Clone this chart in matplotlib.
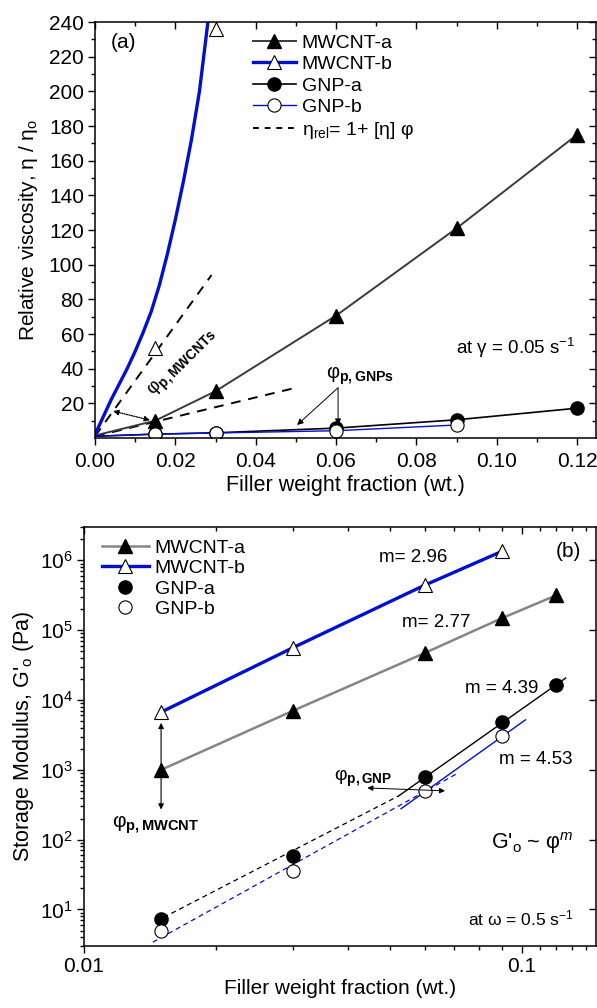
import numpy as np
import matplotlib
matplotlib.use("Agg")
import matplotlib.pyplot as plt
from matplotlib.lines import Line2D
from matplotlib.ticker import FixedLocator, MultipleLocator, NullFormatter, LogFormatterSciNotation

plt.rcParams["font.family"] = ["Liberation Sans", "DejaVu Sans"]
plt.rcParams["mathtext.fontset"] = "custom"
plt.rcParams["mathtext.rm"] = "Liberation Sans"
plt.rcParams["mathtext.it"] = "Liberation Sans:italic"
plt.rcParams["mathtext.bf"] = "Liberation Sans:bold"

# ---- panel (a): relative viscosity vs filler weight fraction ----
wt = [0.015, 0.03, 0.06, 0.09, 0.12]
rel_mwcnt_a = [10, 27, 70.6, 121, 175]
rel_mwcnt_b = [52, 236]
rel_gnp_a = [2.2, 3.0, 5.7, 10.5, 17.2]
rel_gnp_b = [2.3, 2.9, 4.2, 7.5]

# curves
mwcnt_a_curve_x = [0.001, 0.015, 0.03, 0.06, 0.09, 0.12]
mwcnt_a_curve_y = [2, 10, 27, 70.6, 121, 175]
mwcnt_b_curve_x = [0.0, 0.002, 0.004, 0.006, 0.008, 0.010, 0.012, 0.014, 0.016,
                   0.018, 0.020, 0.022, 0.024, 0.026, 0.028, 0.0285]
mwcnt_b_curve_y = [2, 12, 22, 31, 40, 50, 61, 73, 88, 106, 126, 148, 172, 200, 238, 250]
gnp_a_curve_x = [0.0, 0.015, 0.03, 0.06, 0.09, 0.12]
gnp_a_curve_y = [1, 2.2, 3.0, 5.7, 10.5, 17.2]
gnp_b_curve_x = [0.0, 0.015, 0.03, 0.06, 0.09]
gnp_b_curve_y = [1, 2.3, 2.9, 4.2, 7.5]
einstein_1_x = [0.0, 0.029]
einstein_1_y = [1, 94]
einstein_2_x = [0.0, 0.05]
einstein_2_y = [1, 29]

# ---- panel (b): storage modulus vs filler weight fraction ----
g_mwcnt_a = [1000, 7000, 47000, 148000, 316000]
g_mwcnt_b = [6700, 56000, 440000, 1.34e6]
g_gnp_a = [7.2, 59, 800, 4900, 16400]
g_gnp_b = [5.0, 35, 500, 3100]
fit_gnp_a_x = [0.0524, 0.126]
fit_gnp_a_y = [425, 20600]
fit_gnp_b_x = [0.053, 0.102]
fit_gnp_b_y = [277, 5200]
dash_gnp_a_x = [0.0152, 0.0524]
dash_gnp_a_y = [7.7, 425]
dash_gnp_b_x = [0.01436, 0.0711]
dash_gnp_b_y = [3.4, 880]

BLUE = "#0010d0"
DGRAY = "#3a3a3a"
GRAY = "#858585"

W, H = 597, 1008
fig = plt.figure(figsize=(W / 100, H / 100), dpi=100)

def frac(l, t, r, b):
    return [l / W, 1 - b / H, (r - l) / W, (b - t) / H]

ax1 = fig.add_axes(frac(95, 22, 596, 438))
ax2 = fig.add_axes(frac(84, 527, 596, 946))

ms = 9.5
# panel a
ax1.plot(einstein_1_x, einstein_1_y, ls=(0, (5, 4)), color="black", lw=1.4)
ax1.plot(einstein_2_x, einstein_2_y, ls=(0, (5, 4)), color="black", lw=1.4)
ax1.plot(mwcnt_a_curve_x, mwcnt_a_curve_y, color=DGRAY, lw=1.4)
ax1.plot(mwcnt_b_curve_x, mwcnt_b_curve_y, color=BLUE, lw=2.4)
ax1.plot(gnp_a_curve_x, gnp_a_curve_y, color="black", lw=1.2)
ax1.plot(gnp_b_curve_x, gnp_b_curve_y, color=BLUE, lw=1.0)
ax1.plot(wt, rel_mwcnt_a, ls="none", marker="^", ms=ms, mfc="black", mec="black")
ax1.plot(wt[:2], rel_mwcnt_b, ls="none", marker="^", ms=ms, mfc="white", mec="black", mew=0.8, clip_on=False)
ax1.plot(wt, rel_gnp_a, ls="none", marker="o", ms=ms, mfc="black", mec="black")
ax1.plot(wt[:4], rel_gnp_b, ls="none", marker="o", ms=ms, mfc="white", mec="black", mew=0.8)

ax1.set_xlim(0, 0.1247)
ax1.set_ylim(0, 240)
ax1.xaxis.set_major_locator(FixedLocator(np.arange(0, 0.121, 0.02)))
ax1.xaxis.set_minor_locator(FixedLocator(np.arange(0.01, 0.121, 0.02)))
ax1.yaxis.set_major_locator(FixedLocator(np.arange(20, 241, 20)))
ax1.yaxis.set_minor_locator(FixedLocator(np.arange(10, 240, 20)))
ax1.xaxis.set_major_formatter(plt.FuncFormatter(lambda v, p: f"{v:.2f}"))
ax1.set_xlabel("Filler weight fraction (wt.)", fontsize=15.5, labelpad=3)
ax1.set_ylabel("Relative viscosity, η / η$_{\\mathrm{o}}$", fontsize=15, labelpad=6)

handles_a = [
    Line2D([], [], color=DGRAY, lw=1.4, marker="^", ms=ms, mfc="black", mec="black"),
    Line2D([], [], color=BLUE, lw=2.4, marker="^", ms=ms, mfc="white", mec="black", mew=0.8),
    Line2D([], [], color="black", lw=1.2, marker="o", ms=ms, mfc="black", mec="black"),
    Line2D([], [], color=BLUE, lw=1.0, marker="o", ms=ms, mfc="white", mec="black", mew=0.8),
    Line2D([], [], color="black", lw=1.4, ls=(0, (3, 3))),
]
labels_a = ["MWCNT-a", "MWCNT-b", "GNP-a", "GNP-b", "η$_{\\mathrm{rel}}$= 1+ [η] φ"]
ax1.legend(handles_a, labels_a, loc="upper left", bbox_to_anchor=(0.30, 0.99), frameon=False,
           fontsize=14, handlelength=2.2, handletextpad=0.3, labelspacing=0.2, borderaxespad=0)

ax1.text(0.0038, 228, "(a)", fontsize=15, va="center")
ax1.text(0.1196, 52, "at γ = 0.05 s$^{-1}$", fontsize=13.5, ha="right", va="center")
ax1.text(0.0218, 43, "φ$_{\\mathbf{p,MWCNTs}}$", fontsize=14, rotation=45, ha="center", va="center")
ax1.text(0.066, 36, "φ$_{\\mathbf{p,GNPs}}$", fontsize=14.5, ha="center", va="center")
ax1.annotate("", xy=(0.0137, 10.3), xytext=(0.0045, 15.5),
             arrowprops=dict(arrowstyle="<|-|>", color="black", lw=0.9, ls=(0, (1, 1)),
                             mutation_scale=8, shrinkA=0, shrinkB=0))
ax1.annotate("", xy=(0.0503, 7.5), xytext=(0.0605, 29),
             arrowprops=dict(arrowstyle="-|>", color="black", lw=0.7, mutation_scale=9, shrinkA=0, shrinkB=0))
ax1.annotate("", xy=(0.0605, 7.5), xytext=(0.0605, 29),
             arrowprops=dict(arrowstyle="-|>", color="black", lw=0.7, mutation_scale=9, shrinkA=0, shrinkB=0))

# panel b
ax2.set_xscale("log")
ax2.set_yscale("log")
ax2.plot(dash_gnp_a_x, dash_gnp_a_y, color="black", lw=0.9, ls=(0, (4, 3)))
ax2.plot(dash_gnp_b_x, dash_gnp_b_y, color=BLUE, lw=0.9, ls=(0, (4, 3)))
ax2.plot(fit_gnp_a_x, fit_gnp_a_y, color="black", lw=1.0)
ax2.plot(fit_gnp_b_x, fit_gnp_b_y, color=BLUE, lw=1.0)
ax2.plot(wt, g_mwcnt_a, color=GRAY, lw=1.8, marker="^", ms=ms, mfc="black", mec="black")
ax2.plot(wt[:4], g_mwcnt_b, color=BLUE, lw=2.4, marker="^", ms=ms, mfc="white", mec="black", mew=0.8)
ax2.plot(wt, g_gnp_a, ls="none", marker="o", ms=ms, mfc="black", mec="black")
ax2.plot(wt[:4], g_gnp_b, ls="none", marker="o", ms=ms, mfc="white", mec="black", mew=0.8)

ax2.set_xlim(0.01, 0.1478)
ax2.set_ylim(3, 3e6)
decades = [10.0 ** k for k in range(1, 7)]
ax2.xaxis.set_major_locator(FixedLocator([0.01, 0.1]))
ax2.xaxis.set_major_formatter(plt.FuncFormatter(lambda v, p: "0.01" if v < 0.05 else "0.1"))
ax2.xaxis.set_minor_locator(FixedLocator([k * 0.01 for k in range(2, 10)] + [0.11, 0.12, 0.13, 0.14]))
ax2.xaxis.set_minor_formatter(NullFormatter())
ax2.yaxis.set_major_locator(FixedLocator(decades))
ax2.yaxis.set_major_formatter(LogFormatterSciNotation())
ax2.yaxis.set_minor_locator(FixedLocator([m * d for d in [1.0] + decades for m in range(2, 10)
                                          if 3 <= m * d <= 3e6]))
ax2.yaxis.set_minor_formatter(NullFormatter())
ax2.set_xlabel("Filler weight fraction (wt.)", fontsize=15, labelpad=2)
ax2.set_ylabel("Storage Modulus, G'$_{\\mathrm{o}}$ (Pa)", fontsize=15.5, labelpad=3)

handles_b = [
    Line2D([], [], color=GRAY, lw=1.8, marker="^", ms=ms, mfc="black", mec="black"),
    Line2D([], [], color=BLUE, lw=2.4, marker="^", ms=ms, mfc="white", mec="black", mew=0.8),
    Line2D([], [], ls="none", marker="o", ms=ms, mfc="black", mec="black"),
    Line2D([], [], ls="none", marker="o", ms=ms, mfc="white", mec="black", mew=0.8),
]
ax2.legend(handles_b, ["MWCNT-a", "MWCNT-b", "GNP-a", "GNP-b"], loc="upper left",
           bbox_to_anchor=(0.02, 0.99), frameon=False, fontsize=14, handlelength=2.4,
           handletextpad=0.3, labelspacing=0.15, borderaxespad=0)

ax2.text(0.0565, 1.1e6, "m= 2.96", fontsize=13.5, ha="center", va="center")
ax2.text(0.0637, 1.3e5, "m= 2.77", fontsize=13.5, ha="center", va="center")
ax2.text(0.090, 1.44e4, "m = 4.39", fontsize=13.5, ha="center", va="center")
ax2.text(0.1076, 1390, "m = 4.53", fontsize=13.5, ha="center", va="center")
ax2.text(0.128, 1.35e6, "(b)", fontsize=15, ha="center", va="center")
ax2.text(0.1314, 88, "G'$_{\\mathrm{o}}$ ~ φ$^{m}$", fontsize=15.5, ha="right", va="center")
ax2.text(0.1314, 7.4, "at ω = 0.5 s$^{-1}$", fontsize=12.5, ha="right", va="center")
ax2.text(0.0146, 164, "φ$_{\\mathbf{p,MWCNT}}$", fontsize=15, ha="center", va="center")
ax2.text(0.0434, 745, "φ$_{\\mathbf{p,GNP}}$", fontsize=14, ha="center", va="center")
ax2.annotate("", xy=(0.015, 4700), xytext=(0.015, 270),
             arrowprops=dict(arrowstyle="<|-|>", color="black", lw=0.8, mutation_scale=8, shrinkA=0, shrinkB=0))
ax2.annotate("", xy=(0.0668, 500), xytext=(0.0444, 550),
             arrowprops=dict(arrowstyle="<|-|>", color="black", lw=0.7, mutation_scale=8, shrinkA=0, shrinkB=0))

for ax in (ax1, ax2):
    for s in ax.spines.values():
        s.set_linewidth(1.1)
    ax.tick_params(which="both", labelsize=15, width=1.0)
    ax.tick_params(which="major", length=5)
    ax.tick_params(which="minor", length=3)
    ax.tick_params(axis="x", which="both", top=True, direction="out", pad=5)
    ax.tick_params(axis="y", which="both", right=True, direction="out", pad=3)
ax2.tick_params(axis="x", which="both", pad=3)

# top and right ticks point inward
for ax in (ax1, ax2):
    for t in ax.xaxis.get_major_ticks() + ax.xaxis.get_minor_ticks():
        t.tick2line.set_marker(3)
    for t in ax.yaxis.get_major_ticks() + ax.yaxis.get_minor_ticks():
        t.tick2line.set_marker(0)
ax2.tick_params(axis="y", which="minor", right=False)

fig.savefig("out.png", dpi=100)
